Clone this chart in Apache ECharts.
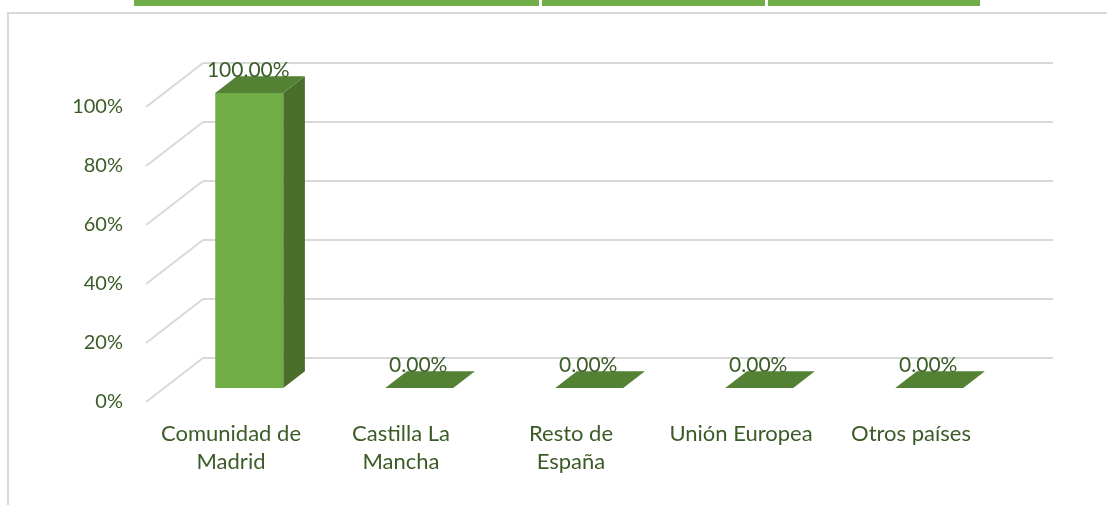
<!DOCTYPE html>
<html>
<head>
<meta charset="utf-8">
<script src="https://cdn.jsdelivr.net/npm/echarts@6/dist/echarts.min.js"></script>
<style>
  html, body { margin: 0; padding: 0; background: #ffffff; }
  #chart { width: 1107px; height: 505px; }
</style>
</head>
<body>
<div id="chart"></div>
<script>
// Origin of the people attended, share per region
const categories = ['Comunidad de\nMadrid', 'Castilla La\nMancha', 'Resto de\nEspaña', 'Unión Europea', 'Otros países'];
const shares = [100, 0, 0, 0, 0];
const yTicks = [0, 20, 40, 60, 80, 100];

// Pseudo-3D depth of the plot box (front plane -> back wall), in pixels
const DEPTH_X = 57;
const DEPTH_Y = -44;
// Bars sit in the middle of the depth
const BAR_FRONT = 0.32;
const BAR_BACK = 0.70;
const BAR_WIDTH = 0.4;

const TEXT = '#3b5b27';
const FONT = 'Lato';

// Front plane of the plot box
const FRONT = { left: 146, right: 111, top: 107, bottom: 103 };

const chart = echarts.init(document.getElementById('chart'), null, { renderer: 'canvas' });

function renderBar(params, api) {
  const idx = api.value(0);
  const v = api.value(1);
  const base = api.coord([idx, 0]);
  const top = api.coord([idx, v]);
  const band = api.size([1, 0])[0];
  const w = band * BAR_WIDTH;
  const cx = base[0] + BAR_FRONT * DEPTH_X;
  const yb = base[1] + BAR_FRONT * DEPTH_Y;
  const yt = top[1] + BAR_FRONT * DEPTH_Y;
  const x0 = cx - w / 2, x1 = cx + w / 2;
  const bx = (BAR_BACK - BAR_FRONT) * DEPTH_X;
  const by = (BAR_BACK - BAR_FRONT) * DEPTH_Y;
  const children = [];
  if (yb - yt > 0.5) {
    children.push({
      type: 'polygon',
      shape: { points: [[x1, yt], [x1, yb], [x1 + bx, yb + by], [x1 + bx, yt + by]] },
      style: { fill: '#4a6f2a' }
    });
    children.push({
      type: 'rect',
      shape: { x: x0, y: yt, width: w, height: yb - yt },
      style: { fill: '#70ad47' }
    });
  }
  children.push({
    type: 'polygon',
    shape: { points: [[x0, yt], [x1, yt], [x1 + bx, yt + by], [x0 + bx, yt + by]] },
    style: { fill: '#548235' }
  });
  children.push({
    type: 'text',
    style: {
      x: cx - 1,
      y: yt + by - 6,
      text: v.toFixed(2) + '%',
      fill: TEXT,
      font: '21px ' + FONT,
      align: 'center',
      verticalAlign: 'middle'
    }
  });
  return { type: 'group', children: children };
}

function renderWallEdge(params, api) {
  const p = api.coord([0, api.value(0)]);
  const x = params.coordSys.x;
  return {
    type: 'line',
    shape: { x1: x, y1: p[1], x2: x + DEPTH_X, y2: p[1] + DEPTH_Y },
    style: { stroke: '#d9d9d9', lineWidth: 2 }
  };
}

const option = {
  animation: false,
  backgroundColor: '#ffffff',
  textStyle: { fontFamily: FONT },
  graphic: [
    { type: 'rect', shape: { x: 134, y: 0, width: 405, height: 6 }, style: { fill: '#70ad47' } },
    { type: 'rect', shape: { x: 542, y: 0, width: 223, height: 6 }, style: { fill: '#70ad47' } },
    { type: 'rect', shape: { x: 768, y: 0, width: 212, height: 6 }, style: { fill: '#70ad47' } },
    { type: 'rect', shape: { x: 8, y: 13, width: 1200, height: 600 }, style: { fill: 'none', stroke: '#d9d9d9', lineWidth: 2 } }
  ],
  grid: [
    // front plane
    { left: FRONT.left, right: FRONT.right, top: FRONT.top, bottom: FRONT.bottom },
    // back wall, shifted by the depth
    { left: FRONT.left + DEPTH_X, right: FRONT.right - DEPTH_X, top: FRONT.top + DEPTH_Y, bottom: FRONT.bottom - DEPTH_Y }
  ],
  xAxis: [
    {
      gridIndex: 0,
      type: 'category',
      data: categories,
      axisLine: { show: false },
      axisTick: { show: false },
      axisLabel: { color: TEXT, fontSize: 22, lineHeight: 28, margin: 18, interval: 0 }
    },
    {
      gridIndex: 1,
      type: 'category',
      data: categories,
      show: false
    }
  ],
  yAxis: [
    {
      gridIndex: 0,
      type: 'value',
      min: 0,
      max: 100,
      interval: 20,
      axisLine: { show: false },
      axisTick: { show: false },
      splitLine: { show: false },
      axisLabel: { color: TEXT, fontSize: 20, margin: 23, formatter: '{value}%' }
    },
    {
      gridIndex: 1,
      type: 'value',
      min: 0,
      max: 100,
      interval: 20,
      axisLine: { show: false },
      axisTick: { show: false },
      axisLabel: { show: false },
      splitLine: { lineStyle: { color: '#d9d9d9', width: 2 } }
    }
  ],
  series: [
    {
      type: 'custom',
      xAxisIndex: 0,
      yAxisIndex: 0,
      data: yTicks.map(t => [t]),
      encode: { y: 0 },
      renderItem: renderWallEdge,
      silent: true,
      z: 1
    },
    {
      type: 'custom',
      xAxisIndex: 0,
      yAxisIndex: 0,
      data: shares.map((v, i) => [i, v]),
      encode: { x: 0, y: 1 },
      renderItem: renderBar,
      z: 5
    }
  ]
};

chart.setOption(option);
</script>
</body>
</html>
